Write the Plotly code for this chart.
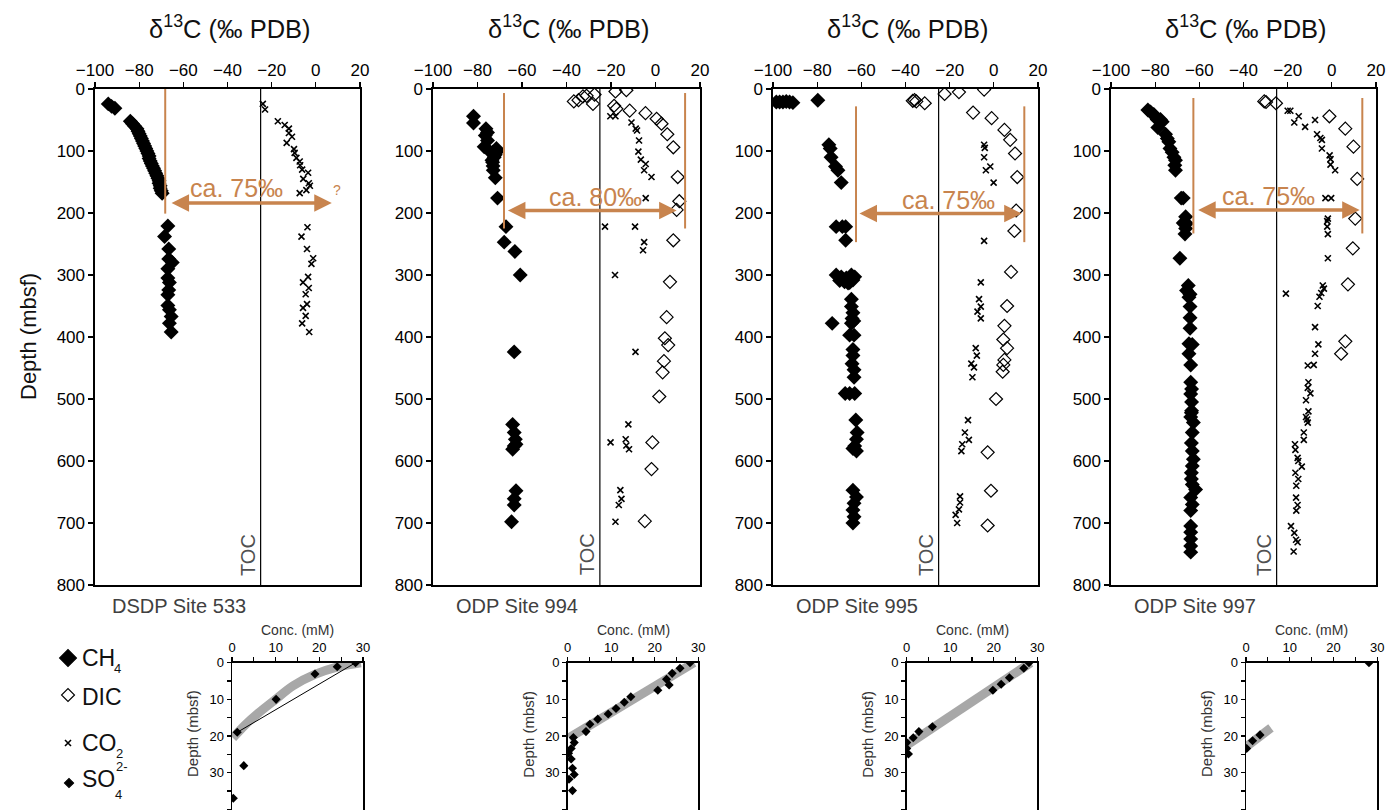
import plotly.graph_objects as go

FIG_W, FIG_H = 1386, 810
OFF = 0  # page body margin is removed, so figure pixels == screen pixels
FONT = "Liberation Sans, Arial, Helvetica, sans-serif"
ORANGE = "#C8844E"

# ---------------- data ----------------
site_names = ["DSDP Site 533", "ODP Site 994", "ODP Site 995", "ODP Site 997"]
toc_d13c = -25

# Site 533
s533_ch4_val = [-94, -92.5, -91, -84, -83, -82, -81, -80.5, -80, -79.5, -79, -78.5, -78, -77.5, -77, -76.5,
                -76, -75.5, -75.5, -75, -74.5, -74, -73.5, -73, -72.5, -72, -71.5, -71, -71, -70.5, -70.5,
                -70, -69.6, -67, -68.5, -66.6, -66.6, -65, -67, -67, -66.3, -66.6, -67, -67, -66.3, -65.5,
                -66.3, -65.5]
s533_ch4_depth = [24, 28, 31, 52, 56, 60, 64, 68, 72, 76, 80, 84, 88, 92, 96, 100,
                  104, 108, 112, 116, 120, 124, 128, 132, 136, 140, 144, 148, 152, 156, 160,
                  164, 168, 221, 238, 258, 274, 280, 290, 305, 312, 324, 332, 349, 356, 367,
                  378, 392]
s533_dic_val = []
s533_dic_depth = []
s533_co2_val = [-24, -23, -17.2, -14.1, -12.2, -12.2, -10.8, -13.2, -9.9, -9.6, -8.8, -7.3, -7.1, -6.2,
                -3.5, -5.7, -3.2, -2.7, -4.3, -7.3, -3.8, -6.5, -4, -1.2, -2, -3.5, -5.8, -3.2, -4.6,
                -4, -5.8, -4.6, -6.2, -3]
s533_co2_depth = [24, 33, 52, 58, 64, 71, 77, 87, 97, 103, 111, 117, 123, 130,
                  135, 145, 152, 156, 163, 168, 223, 238, 258, 273, 282, 303, 312, 321, 331,
                  347, 353, 366, 378, 392]

# Site 994
s994_ch4_val = [-81.8, -81.8, -76.2, -75.5, -76.5, -75.5, -77, -75, -73.2, -71, -72, -72.5, -73.5, -73.2,
                -72.9, -72, -71, -67.2, -68, -63.2, -60.8, -63.5, -64.2, -63.5, -63, -62.7, -64.2, -63.5,
                -62.7, -63.5, -63.5, -64.7, -71.5, -73]
s994_ch4_depth = [44, 55, 64, 70, 75, 83, 93, 99, 102, 100, 106, 110, 115, 118,
                  131, 143, 176, 222, 247, 262, 300, 424, 541, 554, 565, 573, 581, 576,
                  648, 661, 671, 698, 96, 124]
s994_dic_val = [-36.7, -34.6, -32.6, -31, -27.4, -28.1, -18, -13.1, -18.6, -17.6, -11.6, -4.5, 0.5, 2.7,
                5.3, 8, 10, 10.7, 9.5, 8, 6.5, 5, 4.2, 5.7, 3.8, 3.2, 1.7, -1.4, -1.8, -4.8]
s994_dic_depth = [20, 18, 12, 11, 9, 24, 4, 2, 27, 32, 35, 39, 48, 56,
                  73, 94, 142, 181, 195, 244, 311, 368, 402, 413, 439, 457, 496, 570, 613, 697]
s994_co2_val = [-20.3, -18, -10.8, -8.9, -8.3, -7.4, -7.7, -6.6, -4.4, -5.1, -1.8, -4.4, -22.7, -9.2,
                -5.1, -5.6, -18.2, -9, -12.2, -20.2, -13.4, -13.1, -11.9, -15.8, -15.3, -16.5, -18]
s994_co2_depth = [44, 44, 54, 64, 67, 83, 101, 114, 121, 131, 142, 176, 222, 222,
                  247, 260, 300, 424, 541, 570, 565, 575, 581, 647, 661, 671, 698]

# Site 995
s995_ch4_val = [-98.5, -97, -95.5, -94, -92.5, -91, -79.7, -74.7, -74.1, -73.7, -71.7, -70.6, -69.1, -71.4,
                -68.6, -67.1, -67.1, -71.4, -69.1, -66.8, -64.5, -65.3, -63.8, -73.2, -64.5, -64.5, -63.8,
                -64.2, -64.5, -63.4, -65.3, -63.3, -63.8, -63.8, -64.2, -63.3, -63.3, -67.3, -65.3, -63,
                -62.5, -61.9, -62.2, -63, -63.8, -62.2, -63.8, -62.2, -63.3, -63.8, -63.3, -63.8,
                -69.8, -67.6, -66, -63]
s995_ch4_depth = [21, 21, 21, 20, 21, 22, 18, 90, 96, 110, 125, 131, 151, 222,
                  222, 222, 244, 300, 303, 305, 300, 312, 308, 378, 339, 351, 361,
                  370, 378, 374, 397, 397, 420, 430, 443, 453, 465, 491, 491, 491,
                  534, 554, 565, 576, 580, 584, 647, 658, 668, 679, 690, 700,
                  309, 311, 313, 303]
s995_dic_val = [-36.7, -35.9, -35.1, -31.3, -22.3, -15.8, -4.4, -9.4, -1, 4.8, 7.4, 9.6, 10.6, 10.1, 9.3,
                7.8, 6, 4.8, 4.3, 6, 4.8, 4.3, 4, 1, -2.8, -1.3, -2.8]
s995_dic_depth = [19, 18, 20, 23, 8, 5, 1, 38, 47, 66, 82, 104, 142, 196, 229,
                  295, 350, 382, 404, 418, 437, 445, 456, 500, 586, 648, 704]
s995_co2_val = [-4.4, -4.1, -4.4, -1.6, -3.6, -0.1, -4.4, -5.9, -6.7, -5.9, -7.4, -5.9, -8.2, -7.7, -10.2,
                -9, -9.7, -11.7, -13.1, -11.3, -14.3, -14.7, -15.3, -15.3, -15.8, -17.3, -16.6]
s995_co2_depth = [90, 95, 110, 125, 131, 151, 245, 312, 339, 351, 359, 370, 418, 430, 443,
                  449, 465, 534, 554, 566, 573, 584, 657, 667, 678, 687, 700]

# Site 997
s997_ch4_val = [-83.3, -82.1, -80.6, -79.1, -77.6, -76.8, -78.8, -75.3, -74.5, -73.8, -73.3, -72.3, -71.5,
                -70.8, -71.1, -70.8, -68.2, -67.3, -66.2, -67.3, -65.8, -66.2, -66.5, -68.8, -65, -65.8,
                -64.2, -64.7, -64.2, -64.2, -64.2, -64.7, -63.2, -64.7, -63.9, -63.9, -63.5, -63.9, -63.5,
                -63.5, -63.9, -63.6, -62.7, -63.2, -63.6, -63.2, -62.7, -63.2, -63.6, -63.6, -63.2, -61.7,
                -63.9, -63.2, -63.9, -63.9, -63.9, -63.9, -63.9, -63.9]
s997_ch4_depth = [34, 37, 41, 49, 49, 53, 62, 73, 80, 85, 96, 102, 110,
                  115, 123, 131, 176, 176, 206, 216, 217, 225, 234, 273, 317, 325,
                  331, 336, 351, 369, 386, 411, 412, 427, 445, 473, 484, 492, 505,
                  519, 529, 522, 538, 554, 571, 584, 597, 608, 619, 629, 638, 646,
                  659, 670, 680, 705, 715, 726, 737, 747]
s997_dic_val = [-30.6, -29.8, -25.3, -1.1, 6.1, 9.8, 11.5, 10.6, 9.5, 7.3, 6.1, 4.2]
s997_dic_depth = [20, 21, 23, 44, 64, 93, 145, 209, 257, 315, 407, 427]
s997_co2_val = [-20, -18.8, -15, -17, -12.1, -7.6, -6.7, -5.2, -4.5, -4.5, -1, -0.6, -0.6, 1.5, -2.9,
                -0.3, -1.8, -2.1, -2.1, -1.8, -1.8, -20.8, -4.1, -3.6, -4.8, -5.6, -6.4, -7.6, -6.1,
                -7.6, -10.9, -8.2, -10.6, -10.9, -9.7, -11.7, -10.6, -11.7, -11.2, -10.9, -12.7, -12.7,
                -16.7, -16.5, -15.5, -15.2, -13.6, -16.5, -15.2, -16.1, -16.2, -15.5, -16.1, -18.5,
                -17, -16.2, -15.5, -17.3]
s997_co2_depth = [35, 35, 44, 54, 61, 50, 73, 79, 82, 96, 107, 113, 122, 131, 176,
                  176, 209, 213, 222, 234, 273, 330, 317, 322, 329, 335, 350, 384, 412,
                  427, 446, 445, 473, 482, 491, 502, 520, 529, 533, 538, 554, 566,
                  573, 582, 595, 600, 609, 619, 629, 640, 659, 671, 680, 705,
                  716, 727, 731, 746]

# Sulfate insets (conc in mM, depth in mbsf)
s533_so4_conc = [28.3, 24.1, 19, 10.1, 1.2, 2.7, 0.3]
s533_so4_depth = [0, 1.1, 3.1, 10, 19, 28.1, 37]
s533_fit_conc = [29.5, 24, 19, 14, 10, 6, 3, 1, 0.2]
s533_fit_depth = [0, 1.2, 3.2, 6.3, 10, 13.8, 17, 19.5, 20.5]
s533_lin_conc = [28.3, 1.2]
s533_lin_depth = [0, 19]

s994_so4_conc = [28.1, 25.8, 24, 22.7, 23.3, 20.7, 14.5, 13, 11.1, 9.3, 6.9, 5.1, 4.2, 1.3, 1.5, 0.8, 0.2,
                 0.8, 1.1, 1.5, 0.3, 1.1]
s994_so4_depth = [0, 1.5, 2.9, 4.5, 6.1, 7.5, 9.3, 10.8, 12.5, 14, 15.4, 16.8, 18.8, 20.4, 21.8, 23.4, 24.7,
                  26.3, 28.8, 30.5, 31.8, 34.9]
s994_fit_conc = [29, 0.3]
s994_fit_depth = [0, 20.5]

s995_so4_conc = [28.1, 26.9, 23.6, 21.7, 19.8, 5.9, 2.8, 1.5, 0, 0, 0.4]
s995_so4_depth = [0, 1.5, 4.1, 5.9, 7.5, 17.5, 18.8, 20.5, 21.8, 23.4, 24.9]
s995_fit_conc = [28.5, 0]
s995_fit_depth = [0, 22.5]

s997_so4_conc = [28.1, 3.2, 1.5, 0.15]
s997_so4_depth = [0, 19.7, 21.3, 23.4]
s997_fit_conc = [5.7, 0]
s997_fit_depth = [17.8, 23]

# isotope-gap annotations per site
gap_labels = ["ca. 75‰", "ca. 80‰", "ca. 75‰", "ca. 75‰"]
gap_arrow_from = [-66, -67, -61.5, -61.2]
gap_arrow_to = [7.2, 9.5, 12.6, 12.6]
gap_arrow_depth = [184, 196, 201, 195]
gap_left_line = [-68.2, -68.1, -62.4, -62.7]
gap_right_line = [None, 13.3, 13.8, 13.8]
gap_line_top = [0, 6.5, 28, 14.5]
gap_line_bottom = [201, 225, 247, 233]
gap_text_x = [-35.9, -26.9, -20.6, -28.8]
gap_text_depth = [160, 175, 178.6, 173]

# ---------------- figure ----------------
sites = [
    dict(ch4=(s533_ch4_val, s533_ch4_depth), dic=(s533_dic_val, s533_dic_depth), co2=(s533_co2_val, s533_co2_depth),
         so4=(s533_so4_conc, s533_so4_depth), fit=(s533_fit_conc, s533_fit_depth)),
    dict(ch4=(s994_ch4_val, s994_ch4_depth), dic=(s994_dic_val, s994_dic_depth), co2=(s994_co2_val, s994_co2_depth),
         so4=(s994_so4_conc, s994_so4_depth), fit=(s994_fit_conc, s994_fit_depth)),
    dict(ch4=(s995_ch4_val, s995_ch4_depth), dic=(s995_dic_val, s995_dic_depth), co2=(s995_co2_val, s995_co2_depth),
         so4=(s995_so4_conc, s995_so4_depth), fit=(s995_fit_conc, s995_fit_depth)),
    dict(ch4=(s997_ch4_val, s997_ch4_depth), dic=(s997_dic_val, s997_dic_depth), co2=(s997_co2_val, s997_co2_depth),
         so4=(s997_so4_conc, s997_so4_depth), fit=(s997_fit_conc, s997_fit_depth)),
]

# screen-pixel layout (from the reference image)
main_px = [(95, 360), (433, 700), (773, 1038), (1111, 1376)]
inset_px = [(232, 363), (567.7, 698.3), (906.7, 1037.3), (1246, 1377.3)]
main_top, main_bot = 89, 585
inset_top = 662.7


def px(x):
    return (x - OFF) / FIG_W


def py(y):
    return 1 - (y - OFF) / FIG_H


def nm(k):
    return "" if k == 1 else str(k)


def ann(**kw):
    base = dict(showarrow=False, xanchor="center", yanchor="middle")
    base.update(kw)
    return base


fig = go.Figure()
layout = dict(
    width=FIG_W, height=FIG_H, margin=dict(l=0, r=0, t=0, b=0, pad=0),
    paper_bgcolor="white", plot_bgcolor="rgba(0,0,0,0)", showlegend=False,
    font=dict(family=FONT, color="black"), hovermode=False,
)
annotations = []
shapes = []

for i, s in enumerate(sites):
    k = i + 1
    xa, ya = "x" + nm(k), "y" + nm(k)
    l, r = main_px[i]
    layout["xaxis" + nm(k)] = dict(
        domain=[px(l), px(r)], range=[-100, 20], anchor=ya, side="top", automargin=False,
        tickmode="array", tickvals=[-100, -80, -60, -40, -20, 0, 20], ticks="outside", ticklen=5, tickwidth=1.3,
        tickcolor="black", showline=True, mirror=True, linecolor="black", linewidth=1.6,
        showgrid=False, zeroline=False, tickfont=dict(size=17, family=FONT))
    layout["yaxis" + nm(k)] = dict(
        domain=[py(main_bot), py(main_top)], range=[800, 0], anchor=xa, automargin=False,
        tickmode="array", tickvals=list(range(0, 801, 100)), ticks="outside", ticklen=5, tickwidth=1.3,
        tickcolor="black", showline=True, mirror=True, linecolor="black", linewidth=1.6,
        showgrid=False, zeroline=False, tickfont=dict(size=17, family=FONT))

    shapes.append(dict(type="line", xref=xa, yref=ya, x0=toc_d13c, x1=toc_d13c, y0=0, y1=800,
                       line=dict(color="black", width=1.2)))
    shapes.append(dict(type="line", xref=xa, yref=ya, x0=gap_left_line[i], x1=gap_left_line[i],
                       y0=gap_line_top[i], y1=gap_line_bottom[i], line=dict(color=ORANGE, width=2)))
    if gap_right_line[i] is not None:
        shapes.append(dict(type="line", xref=xa, yref=ya, x0=gap_right_line[i], x1=gap_right_line[i],
                           y0=gap_line_top[i], y1=gap_line_bottom[i], line=dict(color=ORANGE, width=2)))

    fig.add_trace(go.Scatter(x=s["co2"][0], y=s["co2"][1], mode="markers", xaxis=xa, yaxis=ya,
                             marker=dict(symbol="x-thin", size=6, color="black",
                                         line=dict(width=1.6, color="black"))))
    if len(s["dic"][0]):
        fig.add_trace(go.Scatter(x=s["dic"][0], y=s["dic"][1], mode="markers", xaxis=xa, yaxis=ya,
                                 marker=dict(symbol="diamond-open", size=10, color="black",
                                             line=dict(width=1.2, color="black"))))
    fig.add_trace(go.Scatter(x=s["ch4"][0], y=s["ch4"][1], mode="markers", xaxis=xa, yaxis=ya,
                             marker=dict(symbol="diamond", size=11.5, color="black", line=dict(width=0))))

    annotations.append(dict(x=gap_arrow_to[i], y=gap_arrow_depth[i], ax=gap_arrow_from[i], ay=gap_arrow_depth[i],
                            xref=xa, yref=ya, axref=xa, ayref=ya, text="", showarrow=True,
                            arrowhead=2, startarrowhead=2, arrowside="end+start", arrowsize=1,
                            startarrowsize=1, arrowwidth=3.5, arrowcolor=ORANGE, standoff=0, startstandoff=0))
    annotations.append(ann(x=gap_text_x[i], y=gap_text_depth[i], xref=xa, yref=ya, text=gap_labels[i],
                           font=dict(size=25, color=ORANGE, family=FONT)))
    annotations.append(ann(x=-31, y=751, xref=xa, yref=ya, text="TOC", textangle=-90,
                           font=dict(size=20, color="#505050", family=FONT)))
    annotations.append(ann(x=px((l + r) / 2 + 2), y=py(27), xref="paper", yref="paper",
                           text="δ<sup>13</sup>C (‰ PDB)", font=dict(size=25.5, family=FONT, color="#111111")))
    annotations.append(ann(x=px(l + 84), y=py(606), xref="paper", yref="paper", text=site_names[i],
                           font=dict(size=20, family=FONT, color="#404040")))

    # ---- inset ----
    ki = k + 4
    xi, yi = "x" + str(ki), "y" + str(ki)
    il, ir = inset_px[i]
    layout["xaxis" + str(ki)] = dict(
        domain=[px(il), px(ir)], range=[0, 30], anchor=yi, side="top", automargin=False,
        tickmode="array", tickvals=[0, 5, 10, 15, 20, 25, 30], ticktext=["0", "", "10", "", "20", "", "30"],
        ticks="outside", ticklen=4, tickwidth=1.2, tickcolor="black",
        showline=True, mirror=True, linecolor="black", linewidth=1.5, showgrid=False, zeroline=False,
        tickfont=dict(size=13, family=FONT))
    layout["yaxis" + str(ki)] = dict(
        domain=[0, py(inset_top)], range=[40.2, 0], anchor=xi, automargin=False,
        tickmode="array", tickvals=[0, 5, 10, 15, 20, 25, 30, 35, 40],
        ticktext=["0", "", "10", "", "20", "", "30", "", "40"],
        ticks="outside", ticklen=4, tickwidth=1.2, tickcolor="black",
        showline=True, mirror=True, linecolor="black", linewidth=1.5, showgrid=False, zeroline=False,
        tickfont=dict(size=13, family=FONT))
    fig.add_trace(go.Scatter(x=s["fit"][0], y=s["fit"][1], mode="lines", xaxis=xi, yaxis=yi,
                             line=dict(color="#A8A8A8", width=9, shape="spline")))
    if i == 0:
        fig.add_trace(go.Scatter(x=s533_lin_conc, y=s533_lin_depth, mode="lines", xaxis=xi, yaxis=yi,
                                 line=dict(color="black", width=1)))
    fig.add_trace(go.Scatter(x=s["so4"][0], y=s["so4"][1], mode="markers", xaxis=xi, yaxis=yi,
                             marker=dict(symbol="diamond", size=7, color="black", line=dict(width=0))))
    annotations.append(ann(x=px((il + ir) / 2), y=py(630), xref="paper", yref="paper", text="Conc. (mM)",
                           font=dict(size=14, family=FONT, color="#333333")))
    annotations.append(ann(x=px(il - 40), y=py(734), xref="paper", yref="paper", text="Depth (mbsf)",
                           textangle=-90, font=dict(size=15, family=FONT, color="#333333")))

annotations.append(ann(x=9.5, y=163, xref="x", yref="y", text="?", font=dict(size=14, color=ORANGE, family=FONT)))
annotations.append(ann(x=px(28), y=py(337), xref="paper", yref="paper", text="Depth (mbsf)", textangle=-90,
                       font=dict(size=22, family=FONT, color="#111111")))

# ---- legend (drawn manually on a hidden full-page axis) ----
legend_symbols = ["diamond", "diamond-open", "x-thin", "diamond"]
legend_sizes = [13, 10, 6, 7]
legend_x = [68, 68, 68, 69]
legend_y = [658, 695, 743, 783]
layout["xaxis9"] = dict(domain=[0, 1], range=[OFF, OFF + FIG_W], visible=False, anchor="y9", automargin=False)
layout["yaxis9"] = dict(domain=[0, 1], range=[OFF + FIG_H, OFF], visible=False, anchor="x9", automargin=False)
for sym, sz, lx, ly in zip(legend_symbols, legend_sizes, legend_x, legend_y):
    fig.add_trace(go.Scatter(x=[lx], y=[ly], mode="markers", xaxis="x9", yaxis="y9",
                             marker=dict(symbol=sym, size=sz, color="black",
                                         line=dict(width=1.6 if sym == "x-thin" else 1.1, color="black"))))
legend_texts = [("CH", 80, 658), ("DIC", 80, 697), ("CO", 80, 743), ("SO", 80, 779)]
for t, lx, ly in legend_texts:
    annotations.append(ann(x=px(lx), y=py(ly), xref="paper", yref="paper", text=t, xanchor="left",
                           font=dict(size=23, family=FONT, color="#111111")))
small_texts = [("4", 112, 668), ("2", 114, 753), ("4", 113, 794), ("2-", 114, 766)]
for t, lx, ly in small_texts:
    annotations.append(ann(x=px(lx), y=py(ly), xref="paper", yref="paper", text=t, xanchor="left",
                           font=dict(size=13, family=FONT, color="#111111")))

layout["annotations"] = annotations
layout["shapes"] = shapes
fig.update_layout(**layout)
fig.write_html(
    "out.html",
    config={"displayModeBar": False, "staticPlot": True},
    post_script="document.documentElement.style.overflow='hidden';"
                "document.body.style.margin='0px';document.body.style.overflow='hidden';",
)
